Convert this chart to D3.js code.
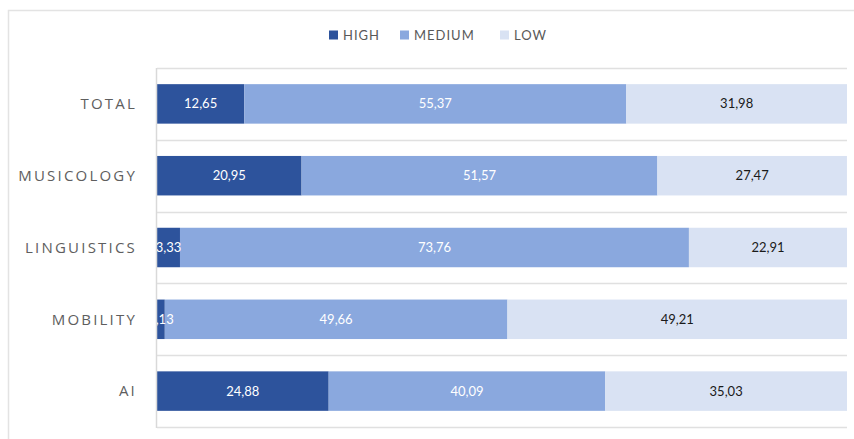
<!DOCTYPE html>
<html>
<head>
<meta charset="utf-8">
<script src="https://cdn.jsdelivr.net/npm/d3@7"></script>
<style>
  html, body { margin: 0; padding: 0; background: #fff; }
  svg { display: block; }
</style>
</head>
<body>
<div id="chart"></div>
<script>
// stacked 100% bars: level share by domain
const categories = ['TOTAL', 'MUSICOLOGY', 'LINGUISTICS', 'MOBILITY', 'AI'];
const levels = ['HIGH', 'MEDIUM', 'LOW'];
const high   = [12.65, 20.95, 3.33, 1.13, 24.88];
const medium = [55.37, 51.57, 73.76, 49.66, 40.09];
const low    = [31.98, 27.47, 22.91, 49.21, 35.03];

const colors = {HIGH: '#2d539c', MEDIUM: '#8aa8de', LOW: '#d9e2f3'};
const labelColors = {HIGH: '#fff', MEDIUM: '#fff', LOW: '#1a1a1a'};

const rows = categories.map((c, i) => ({cat: c, HIGH: high[i], MEDIUM: medium[i], LOW: low[i]}));
const fmt = v => d3.format('.2f')(v).replace('.', ',');

const W = 854, H = 439;
const margin = {left: 157, right: 7, top: 68, bottom: 12};

const svg = d3.select('#chart').append('svg').attr('width', W).attr('height', H);

// outer chart frame
svg.append('rect').attr('x', 8.5).attr('y', 10.5).attr('width', W + 10).attr('height', H + 10)
  .attr('fill', 'none').attr('stroke', '#e3e3e3').attr('stroke-width', 1.5);

const x = d3.scaleLinear().domain([0, 100]).range([margin.left, W - margin.right]);
const y = d3.scaleBand().domain(categories).range([margin.top, H - margin.bottom]).paddingInner(0.45).paddingOuter(0.225);

// category separators
const step = y.step();
const seps = d3.range(categories.length + 1).map(i => margin.top + i * step);
svg.append('g').selectAll('line').data(seps).enter().append('line')
  .attr('x1', margin.left).attr('x2', W - margin.right)
  .attr('y1', d => Math.round(d) + 0.5).attr('y2', d => Math.round(d) + 0.5)
  .attr('stroke', '#e0e0e0').attr('stroke-width', 1.5);

const stack = d3.stack().keys(levels)(rows);

const layer = svg.append('g').selectAll('g').data(stack).enter().append('g')
  .attr('fill', d => colors[d.key]);
layer.selectAll('rect').data(d => d).enter().append('rect')
  .attr('x', d => x(d[0])).attr('width', d => x(d[1]) - x(d[0]))
  .attr('y', d => y(d.data.cat)).attr('height', y.bandwidth());

// value labels
const lab = svg.append('g').selectAll('g').data(stack).enter().append('g');
lab.selectAll('text').data(d => d.map(p => ({p, key: d.key}))).enter().append('text')
  .attr('x', d => (x(d.p[0]) + x(d.p[1])) / 2)
  .attr('y', d => y(d.p.data.cat) + y.bandwidth() / 2)
  .attr('dy', '0.35em').attr('text-anchor', 'middle')
  .attr('font-family', 'Lato, sans-serif').attr('font-size', 13)
  .attr('fill', d => labelColors[d.key])
  .text(d => fmt(d.p[1] - d.p[0]));

// left axis line
svg.append('line').attr('x1', margin.left - 0.5).attr('x2', margin.left - 0.5)
  .attr('y1', seps[0]).attr('y2', seps[seps.length - 1] + 1)
  .attr('stroke', '#d9d9d9').attr('stroke-width', 1.5);

// category labels
svg.append('g').selectAll('text').data(categories).enter().append('text')
  .attr('x', 137).attr('y', d => y(d) + y.bandwidth() / 2).attr('dy', '0.35em')
  .attr('text-anchor', 'end')
  .attr('font-family', '"Open Sans", sans-serif').attr('font-size', 15).attr('font-weight', 500)
  .attr('letter-spacing', 2.2).attr('fill', '#5e5e5e')
  .text(d => d);

// legend
const legendX = [329, 400, 500];
const lg = svg.append('g').selectAll('g').data(levels).enter().append('g')
  .attr('transform', (d, i) => `translate(${legendX[i]},35)`);
lg.append('rect').attr('x', 0).attr('y', -4.5).attr('width', 9).attr('height', 9).attr('fill', d => colors[d]);
lg.append('text').attr('x', 14).attr('dy', '0.35em')
  .attr('font-family', 'Lato, sans-serif').attr('font-size', 13).attr('letter-spacing', 1)
  .attr('fill', '#595959').text(d => d);
</script>
</body>
</html>
